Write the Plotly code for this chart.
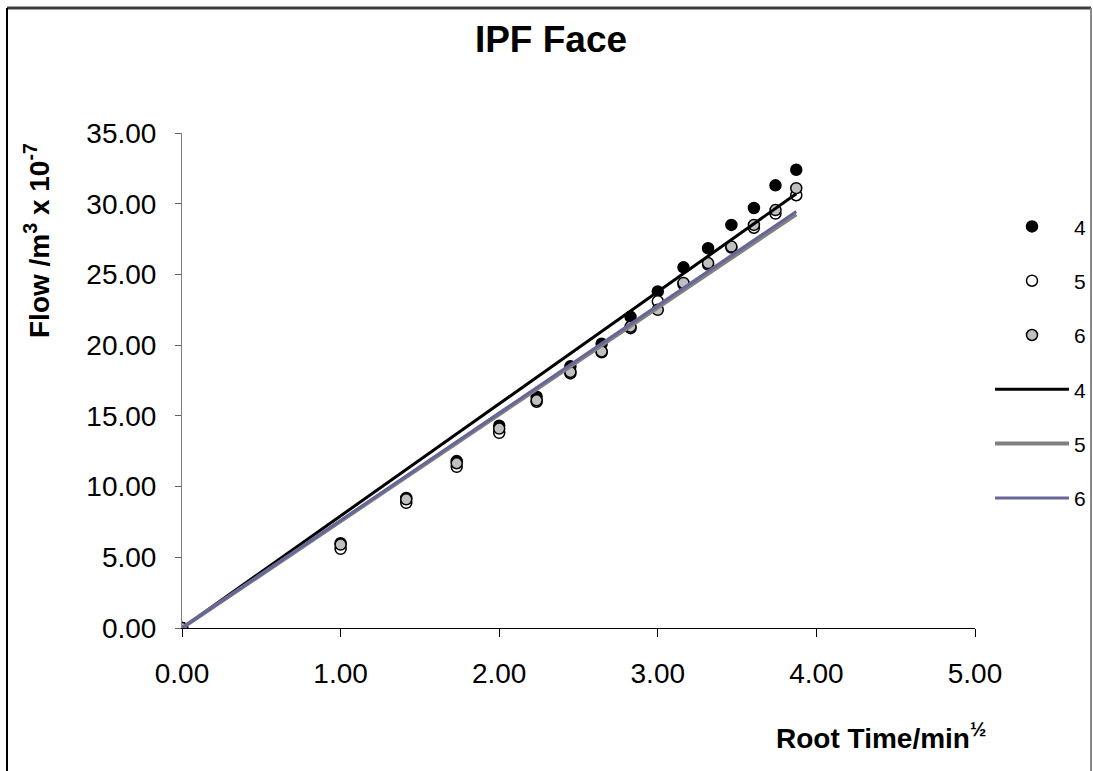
import plotly.graph_objects as go

# ---- data ----
root_time = [0, 1.0, 1.414, 1.732, 2.0, 2.236, 2.449, 2.646, 2.828, 3.0,
             3.162, 3.317, 3.464, 3.606, 3.742, 3.873]
flow_4 = [0, 6.0, 9.2, 11.8, 14.3, 16.35, 18.5, 20.1, 22.0, 23.8,
          25.5, 26.85, 28.5, 29.7, 31.3, 32.4]
flow_5 = [0, 5.6, 8.85, 11.4, 13.8, 16.0, 18.0, 19.5, 21.2, 23.1,
          24.3, 25.7, 26.9, 28.3, 29.3, 30.6]
flow_6 = [0, 5.9, 9.1, 11.65, 14.1, 16.1, 18.1, 19.55, 21.3, 22.5,
          24.4, 25.8, 26.97, 28.5, 29.55, 31.1]

fit_x = [0, 3.873]
fit_4 = [0, 30.7]
fit_5 = [0, 29.25]
fit_6 = [0, 29.45]

series_names = ["4", "5", "6"]
x_ticks = [0, 1, 2, 3, 4, 5]
y_ticks = [0, 5, 10, 15, 20, 25, 30, 35]

FONT = "Liberation Sans, Arial, sans-serif"

W, H = 1093, 771
L, T, PW, PH = 182, 133, 793, 495

fig = go.Figure()

marker_styles = [
    dict(color="black", line=dict(color="black", width=1.5)),
    dict(color="white", line=dict(color="black", width=1.5)),
    dict(color="#c0c0c0", line=dict(color="black", width=1.5)),
]
for i, (name, ys) in enumerate(zip(series_names, [flow_4, flow_5, flow_6])):
    fig.add_trace(go.Scatter(
        x=root_time, y=ys, mode="markers", name=name,
        legendgroup=f"m{i}",
        marker=dict(size=11, symbol="circle", **marker_styles[i]),
    ))

line_styles = [
    dict(color="black", width=3),
    dict(color="#808080", width=4),
    dict(color="#666699", width=3),
]
for i, (name, ys) in enumerate(zip(series_names, [fit_4, fit_5, fit_6])):
    fig.add_trace(go.Scatter(
        x=fit_x, y=ys, mode="lines", name=name,
        legendgroup=f"l{i}",
        line=line_styles[i],
    ))

fig.update_layout(
    width=W, height=H,
    margin=dict(l=L, r=W - L - PW, t=T, b=H - T - PH, autoexpand=False),
    paper_bgcolor="white", plot_bgcolor="white",
    font=dict(family=FONT, color="black", size=28),
    title=dict(text="<b>IPF Face</b>", x=551 / W, xanchor="center",
               y=1 - 39 / H, yanchor="middle",
               font=dict(size=37, family=FONT, color="black")),
    showlegend=True,
    legend=dict(x=(990 - L) / PW, xanchor="left", y=0.852, yanchor="top",
                font=dict(size=21, family=FONT),
                tracegroupgap=24, itemwidth=74,
                bgcolor="rgba(0,0,0,0)"),
    xaxis=dict(range=[0, 5], tickvals=x_ticks, tickformat=".2f",
               showgrid=False, zeroline=False, automargin=False,
               showline=True, linecolor="black", linewidth=1,
               ticks="outside", ticklen=8, tickcolor="black",
               tickfont=dict(size=28, family=FONT), ticklabelstandoff=12),
    yaxis=dict(range=[0, 35], tickvals=y_ticks, tickformat=".2f",
               showgrid=False, zeroline=False, automargin=False,
               showline=True, linecolor="#808080", linewidth=1,
               ticks="outside", ticklen=6, tickcolor="#606060",
               tickfont=dict(size=28, family=FONT), ticklabelstandoff=13),
)

fig.add_annotation(text="<b>Root Time/min<sup>½</sup></b>", xref="paper", yref="paper",
                   x=(881 - L) / PW, y=(T + PH - 736) / PH,
                   xanchor="center", yanchor="middle",
                   showarrow=False, font=dict(size=28, family=FONT))
fig.add_annotation(text="<b>Flow /m<sup>3</sup> x 10<sup>-7</sup></b>", xref="paper", yref="paper",
                   x=(37 - L) / PW, y=(T + PH - 241) / PH,
                   xanchor="center", yanchor="middle",
                   textangle=-90, showarrow=False, font=dict(size=28, family=FONT))

# outer chart border (figure pixel -> paper coords)
def px_to_paper(px, py):
    return (px - L) / PW, (T + PH - py) / PH
x0, y0 = px_to_paper(7, 8)
x1, y1 = px_to_paper(1091, H + 5)
fig.add_shape(type="line", xref="paper", yref="paper", x0=x0, y0=y0, x1=x1, y1=y0,
              line=dict(color="#3c3c3c", width=3))
fig.add_shape(type="line", xref="paper", yref="paper", x0=x0, y0=y0, x1=x0, y1=y1,
              line=dict(color="black", width=2))
fig.add_shape(type="line", xref="paper", yref="paper", x0=x1, y0=y0, x1=x1, y1=y1,
              line=dict(color="#888888", width=2))

fig.write_html(
    "out.html",
    config={"responsive": False, "displayModeBar": False},
    post_script="document.body.style.margin='0';document.body.style.overflow='hidden';",
)
